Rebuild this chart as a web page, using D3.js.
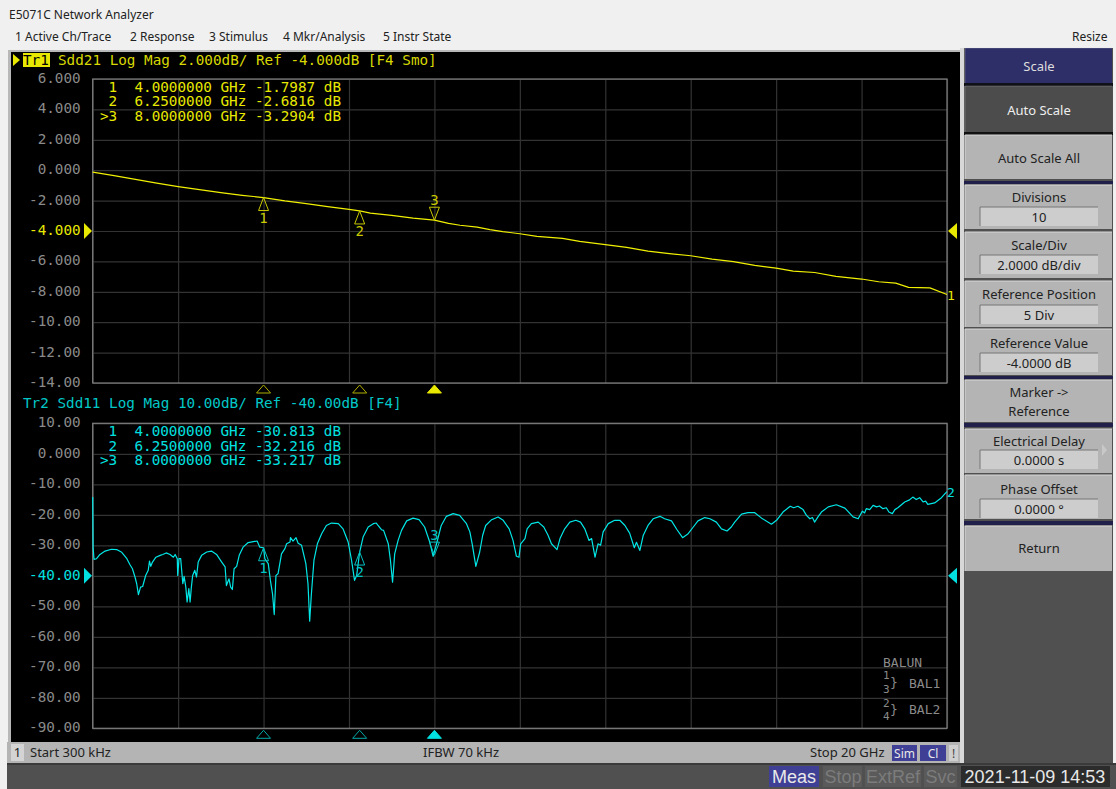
<!DOCTYPE html>
<html>
<head>
<meta charset="utf-8">
<script src="https://cdn.jsdelivr.net/npm/d3@7"></script>
<style>
html,body{margin:0;padding:0;background:#f0f0f0;overflow:hidden;}
svg{display:block;}
</style>
</head>
<body>
<div id="chart"></div>
<script>
/*Data*/
var s21_ghz = [0,0.5,1,1.5,2,2.5,3,3.5,4,4.5,5,5.5,6,6.25,6.5,7,7.5,8,8.33,8.6,9,9.3,9.6,10,10.4,11,11.4,12,12.5,13,13.5,14,14.5,15,15.5,16,16.4,16.9,17.4,18,18.4,18.8,19.1,19.6,20];
var s21_db = [-0.13,-0.36,-0.60,-0.85,-1.08,-1.28,-1.47,-1.65,-1.80,-2.02,-2.20,-2.40,-2.58,-2.68,-2.82,-2.97,-3.15,-3.29,-3.50,-3.62,-3.74,-3.91,-4.04,-4.18,-4.35,-4.48,-4.68,-4.90,-5.08,-5.32,-5.49,-5.63,-5.85,-6.02,-6.26,-6.44,-6.64,-6.73,-6.99,-7.16,-7.34,-7.43,-7.71,-7.74,-8.18];

var s11_ghz = [0,0.01,0.03,0.09,0.17,0.29,0.44,0.56,0.68,0.80,0.87,0.93,0.99,1.03,1.07,1.12,1.17,1.24,1.30,1.33,1.36,1.40,1.48,1.58,1.64,1.72,1.81,1.89,1.93,1.98,1.99,2.02,2.06,2.11,2.14,2.18,2.21,2.25,2.28,2.31,2.34,2.39,2.43,2.47,2.55,2.67,2.78,2.90,3.02,3.10,3.13,3.19,3.23,3.27,3.31,3.37,3.43,3.52,3.64,3.76,3.85,3.91,4.00,4.03,4.11,4.16,4.21,4.25,4.29,4.34,4.42,4.50,4.54,4.62,4.63,4.69,4.76,4.81,4.89,4.99,5.04,5.08,5.12,5.18,5.26,5.36,5.47,5.59,5.75,5.86,5.98,6.06,6.13,6.18,6.25,6.33,6.45,6.57,6.64,6.68,6.76,6.81,6.92,6.97,7.02,7.07,7.15,7.23,7.35,7.50,7.64,7.77,7.89,7.97,8.05,8.16,8.28,8.44,8.59,8.75,8.83,8.89,8.97,9.06,9.13,9.20,9.34,9.49,9.61,9.75,9.84,9.92,9.98,10.02,10.12,10.17,10.27,10.43,10.56,10.66,10.74,10.87,10.94,11.05,11.17,11.31,11.42,11.52,11.62,11.68,11.76,11.83,11.89,11.95,12.07,12.22,12.34,12.46,12.57,12.68,12.73,12.81,12.89,13.00,13.12,13.28,13.39,13.55,13.68,13.81,13.94,14.06,14.17,14.33,14.45,14.60,14.72,14.85,14.95,15.03,15.19,15.34,15.50,15.66,15.89,16.01,16.16,16.33,16.41,16.51,16.63,16.71,16.79,16.85,16.90,16.98,17.06,17.22,17.41,17.61,17.80,17.92,18.02,18.07,18.11,18.19,18.27,18.35,18.42,18.50,18.58,18.64,18.72,18.78,18.85,19.01,19.11,19.20,19.28,19.36,19.44,19.50,19.55,19.71,19.87,19.97,20];
var s11_db = [-14.2,-30.6,-34.6,-34.4,-33.0,-31.9,-31.3,-31.4,-32.3,-34.4,-36.3,-37.7,-40.4,-42.6,-46.2,-43.7,-43.5,-39.9,-38.2,-35.2,-36.9,-35.5,-33.9,-33.3,-33.0,-32.5,-33.0,-33.9,-33.0,-34.4,-39.9,-34.4,-34.4,-42.6,-40.2,-43.7,-48.6,-44.2,-48.6,-43.7,-39.9,-38.2,-40.4,-35.5,-33.3,-32.2,-31.9,-33.0,-35.5,-37.1,-43.2,-41.0,-43.7,-44.5,-37.7,-36.9,-33.3,-30.6,-29.1,-28.8,-28.6,-30.6,-30.8,-34.4,-36.0,-41.5,-45.9,-52.7,-39.9,-39.3,-32.8,-31.1,-29.5,-28.9,-27.5,-28.6,-27.5,-29.3,-30.0,-36.0,-42.6,-54.9,-45.9,-34.9,-29.5,-26.2,-23.5,-22.7,-22.9,-24.6,-28.9,-34.9,-41.5,-39.9,-32.2,-27.3,-24.0,-22.9,-22.7,-23.5,-24.9,-25.1,-29.5,-34.9,-42.1,-32.8,-28.4,-25.1,-22.0,-21.1,-21.6,-24.0,-28.9,-33.6,-29.5,-23.5,-20.5,-19.6,-20.2,-22.9,-25.6,-30.0,-36.9,-32.2,-26.7,-23.5,-21.6,-20.7,-21.8,-24.6,-28.4,-33.6,-33.9,-29.5,-27.8,-24.6,-22.9,-22.4,-24.0,-26.7,-29.5,-31.4,-27.8,-24.6,-22.4,-21.8,-22.4,-24.6,-28.4,-27.8,-33.9,-29.5,-30.0,-25.6,-22.9,-21.8,-21.8,-23.5,-26.0,-30.8,-29.0,-31.7,-26.7,-23.5,-21.3,-20.5,-21.3,-22.0,-24.9,-27.5,-26.2,-24.0,-22.0,-20.9,-21.3,-22.4,-24.6,-25.3,-24.0,-22.4,-19.8,-19.3,-19.3,-21.1,-23.1,-21.8,-19.1,-17.2,-17.7,-17.2,-18.3,-20.2,-21.3,-20.9,-22.4,-20.7,-19.1,-17.4,-16.7,-17.8,-20.7,-21.3,-18.8,-19.4,-18.0,-18.3,-16.9,-17.4,-17.1,-18.0,-17.7,-19.1,-19.6,-18.3,-17.7,-15.8,-15.2,-14.2,-15.0,-14.4,-15.8,-15.5,-16.6,-16.1,-14.4,-12.8,-12.4];

var marker_ghz = [4,6.25,8];
var marker_s21 = [-1.7987,-2.6816,-3.2904];
var marker_s11 = [-30.813,-32.216,-33.217];
var marker_lines_s21 = [" 1  4.0000000 GHz -1.7987 dB"," 2  6.2500000 GHz -2.6816 dB",">3  8.0000000 GHz -3.2904 dB"];
var marker_lines_s11 = [" 1  4.0000000 GHz -30.813 dB"," 2  6.2500000 GHz -32.216 dB",">3  8.0000000 GHz -33.217 dB"];

var ticks_s21 = [6,4,2,0,-2,-4,-6,-8,-10,-12,-14];
var labels_s21 = ["6.000","4.000","2.000","0.000","-2.000","-4.000","-6.000","-8.000","-10.00","-12.00","-14.00"];
var ticks_s11 = [10,0,-10,-20,-30,-40,-50,-60,-70,-80,-90];
var labels_s11 = ["10.00","0.000","-10.00","-20.00","-30.00","-40.00","-50.00","-60.00","-70.00","-80.00","-90.00"];
var freq_ticks = [0,2,4,6,8,10,12,14,16,18,20];

var menu_items = ["1 Active Ch/Trace","2 Response","3 Stimulus","4 Mkr/Analysis","5 Instr State"];
var menu_x = [15,130,209,283,383];

/*SVG Size*/
var width = 1116;
var height = 789;

var mono = "'DejaVu Sans Mono',monospace";
var ui = "'Noto Sans',sans-serif";
var yellow = "#e8e800";
var cyan = "#00e0e0";

var svg = d3.select("#chart").append("svg")
	.attr("width",width)
	.attr("height",height);

function box(x0,y0,x1,y1,fill){
	return svg.append("rect").attr("x",x0).attr("y",y0).attr("width",x1-x0).attr("height",y1-y0).attr("fill",fill);
}
function label(x,y,s,size,fill,font,anchor){
	return svg.append("text").attr("x",x).attr("y",y).attr("font-size",size).attr("fill",fill)
		.attr("font-family",font).attr("text-anchor",anchor || "start").attr("dominant-baseline","central")
		.attr("xml:space","preserve").style("white-space","pre").text(s);
}

/*Window chrome*/
box(0,0,width,height,"#f0f0f0");
label(9,14,"E5071C Network Analyzer",12,"#222",ui);
menu_items.forEach(function(d,i){ label(menu_x[i],36,d,12,"#222",ui); });
label(1072,36,"Resize",12,"#222",ui);

/*Instrument frame*/
box(8,50,1113,789,"#b8b8b8");
box(11,52,960,742,"#000");
box(960,48,964,763,"#d8d8d8");
box(964,48,1113,763,"#505050");
box(7,742,960,763,"#b4b4b4");
box(7,763,1116,789,"#505050");
box(7,763,1116,765,"#3a3a3a");

/*Softkeys*/
var keys = [
	{t:48,b:83,fill:"#2e2e68",color:"#ddd",title:"Scale",ty:66},
	{t:86,b:132,fill:"#4c4c4c",color:"#eee",title:"Auto Scale",ty:110},
	{t:135,b:179,fill:"#b4b4b4",color:"#222",title:"Auto Scale All",ty:158},
	{t:185,b:229,fill:"#b4b4b4",color:"#222",title:"Divisions",ty:197,value:"10",vt:207},
	{t:232,b:278,fill:"#b4b4b4",color:"#222",title:"Scale/Div",ty:245,value:"2.0000 dB/div",vt:255},
	{t:281,b:327,fill:"#b4b4b4",color:"#222",title:"Reference Position",ty:294,value:"5 Div",vt:305},
	{t:329,b:375,fill:"#b4b4b4",color:"#222",title:"Reference Value",ty:343,value:"-4.0000 dB",vt:353},
	{t:380,b:422,fill:"#b4b4b4",color:"#222",title:"Marker ->",ty:392,title2:"Reference",ty2:411},
	{t:429,b:473,fill:"#b4b4b4",color:"#222",title:"Electrical Delay",ty:441,value:"0.0000 s",vt:450},
	{t:475,b:519,fill:"#b4b4b4",color:"#222",title:"Phase Offset",ty:489,value:"0.0000 °",vt:499},
	{t:526,b:571,fill:"#b4b4b4",color:"#222",title:"Return",ty:548}
];
var strips = [[181,184],[376,379],[423,427],[521,525]];
box(964,83,1113,86,"#101018");
box(964,132,1113,135,"#111");
strips.forEach(function(d){ box(964,d[0],1113,d[1],"#20204a"); });
keys.forEach(function(k){
	box(965,k.t,1112,k.b,k.fill);
	svg.append("path").attr("d","M965,"+k.b+"V"+k.t+"H1112").attr("fill","none").attr("stroke","#d8d8d8").attr("opacity",k.fill=="#b4b4b4"?1:0.25);
	label(1039,k.ty,k.title,13,k.color,ui,"middle");
	if(k.title2) label(1039,k.ty2,k.title2,13,k.color,ui,"middle");
	if(k.value){
		box(980,k.vt,1098,k.vt+19,"#cdcdcd");
		svg.append("path").attr("d","M980,"+(k.vt+19)+"V"+k.vt+"H1098").attr("fill","none").attr("stroke","#777");
		label(1039,k.vt+10,k.value,13,"#222",ui,"middle");
	}
});
svg.append("path").attr("d","M1102,444l5,6l-5,6z").attr("fill","#c8c8c8");

/*Scales*/
var x = d3.scaleLinear().domain([0,20]).range([92.7,947]);
var y_s21 = d3.scaleLinear().domain([6,-14]).range([79,383]);
var y_s11 = d3.scaleLinear().domain([10,-90]).range([423.3,728.3]);

function draw_panel(y,ticks,labels,ghz,db,color,lineColor,lines,markers,refTick,endLabel){
	var top = y.range()[0], bottom = y.range()[1];
	var left = x.range()[0], right = x.range()[1];

	var yAxis = svg.append("g").attr("transform","translate("+left+",0)")
		.call(d3.axisLeft(y).tickValues(ticks).tickSize(-(right-left)).tickPadding(12)
			.tickFormat(function(d,i){ return labels[i]; }));
	var xAxis = svg.append("g").attr("transform","translate(0,"+bottom+")")
		.call(d3.axisBottom(x).tickValues(freq_ticks).tickSize(-(bottom-top)).tickFormat(""));
	yAxis.select(".domain").remove();
	xAxis.select(".domain").remove();
	yAxis.selectAll("line").attr("stroke","#333").attr("stroke-width",1.2);
	xAxis.selectAll("line").attr("stroke","#333").attr("stroke-width",1.2);
	yAxis.selectAll("text").attr("font-family",mono).attr("font-size",14.3).attr("dy","0.25em")
		.attr("fill",function(d){ return d==refTick ? color : "#8a8a8a"; });

	/*Frame*/
	svg.append("rect").attr("x",left).attr("y",top).attr("width",right-left).attr("height",bottom-top)
		.attr("fill","none").attr("stroke","#808080").attr("stroke-width",1.2);

	/*Marker readout*/
	lines.forEach(function(s,i){ label(100,top+8+14.4*i,s,14.3,color,mono); });

	/*Trace*/
	var line = d3.line().x(function(d){ return x(d[0]); }).y(function(d){ return y(d[1]); });
	svg.append("path").datum(d3.zip(ghz,db)).attr("d",line)
		.attr("fill","none").attr("stroke",lineColor).attr("stroke-width",1.2).attr("stroke-linejoin","round");

	/*Reference arrows*/
	var ry = y(refTick);
	svg.append("path").attr("d","M84,"+(ry-8)+"L92,"+ry+"L84,"+(ry+8)+"Z").attr("fill",color);
	svg.append("path").attr("d","M957,"+(ry-8)+"L948,"+ry+"L957,"+(ry+8)+"Z").attr("fill",color);

	/*Stimulus triangles*/
	marker_ghz.forEach(function(f,i){
		var active = i==2;
		svg.append("path").attr("d","M"+(x(f)-7)+","+(bottom+10)+"L"+x(f)+","+(bottom+2)+"L"+(x(f)+7)+","+(bottom+10)+"Z")
			.attr("fill",active ? color : "none").attr("stroke",active ? color : d3.color(color).darker(0.8)).attr("stroke-width",1);
	});

	/*Markers on the trace*/
	markers.forEach(function(v,i){
		var mx = x(marker_ghz[i]), my = y(v);
		var dim = d3.color(color).darker(0.4);
		if(i==2){
			svg.append("path").attr("d","M"+mx+","+my+"L"+(mx-5)+","+(my-13)+"H"+(mx+5)+"Z").attr("fill","none").attr("stroke",dim);
			label(mx,my-20,String(i+1),14,dim,mono,"middle");
		} else {
			svg.append("path").attr("d","M"+mx+","+my+"L"+(mx-5)+","+(my+13)+"H"+(mx+5)+"Z").attr("fill","none").attr("stroke",dim);
			label(mx,my+20,String(i+1),14,dim,mono,"middle");
		}
	});

	label(947,y(db[db.length-1])+1,endLabel,13,color,mono);
}

draw_panel(y_s21,ticks_s21,labels_s21,s21_ghz,s21_db,yellow,"#f0f000",marker_lines_s21,marker_s21,-4,"1");
draw_panel(y_s11,ticks_s11,labels_s11,s11_ghz,s11_db,cyan,"#00e6e6",marker_lines_s11,marker_s11,-40,"2");

/*Trace headers*/
svg.append("path").attr("d","M13,54L20,60L13,66Z").attr("fill",yellow);
box(23,53,50,67,yellow);
label(23,59.5,"Tr1",14.3,"#000",mono);
label(58,59.5,"Sdd21 Log Mag 2.000dB/ Ref -4.000dB [F4 Smo]",14.3,"#d8d800",mono);
label(23,402.5,"Tr2 Sdd11 Log Mag 10.00dB/ Ref -40.00dB [F4]",14.3,"#00c8c8",mono);

/*Balun*/
var balun = "#8a8a8a";
label(883,662,"BALUN",13,balun,mono);
label(883,675,"1",11,balun,mono);
label(883,689,"3",11,balun,mono);
label(890,682,"}",13,balun,mono);
label(909,683,"BAL1",13,balun,mono);
label(883,703,"2",11,balun,mono);
label(883,716,"4",11,balun,mono);
label(890,709,"}",13,balun,mono);
label(909,709,"BAL2",13,balun,mono);

/*Status bar*/
box(11,744,24,761,"#d4d4d4");
label(17.5,752,"1",13,"#222",ui,"middle");
label(30,752,"Start 300 kHz",13,"#222",ui);
label(423,752,"IFBW 70 kHz",13,"#222",ui);
label(810,752,"Stop 20 GHz",13,"#222",ui);
box(892,745,917,761,"#3f3f96");
label(904.5,753,"Sim",12,"#e8e8e8",ui,"middle");
box(920,745,946,761,"#3f3f96");
label(933,753,"Cl",12,"#e8e8e8",ui,"middle");
box(949,745,958,761,"#cfcfcf");
label(953.5,753,"!",12,"#444",ui,"middle");

/*Bottom bar*/
box(769,766,819,787,"#3f3f96");
label(794,777,"Meas",18,"#e8e8e8","'Liberation Sans',sans-serif","middle");
box(823,766,862,787,"#5a5a5a");
label(843,777,"Stop",18,"#7c7c7c","'Liberation Sans',sans-serif","middle");
box(865,766,921,787,"#5a5a5a");
label(893,777,"ExtRef",18,"#7c7c7c","'Liberation Sans',sans-serif","middle");
box(924,766,957,787,"#5a5a5a");
label(940.5,777,"Svc",18,"#7c7c7c","'Liberation Sans',sans-serif","middle");
box(961,766,1110,787,"#2c2c2c");
label(1035,777,"2021-11-09 14:53",18,"#e8e8e8","'Liberation Sans',sans-serif","middle");
</script>
</body>
</html>
